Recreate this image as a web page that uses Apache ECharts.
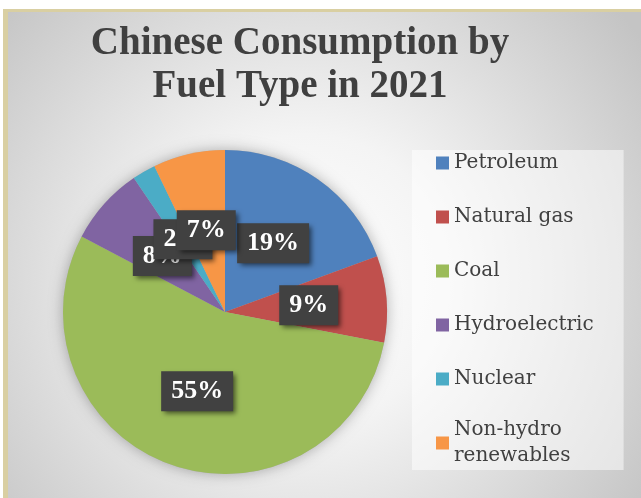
<!DOCTYPE html>
<html><head><meta charset="utf-8">
<script src="https://cdn.jsdelivr.net/npm/echarts@6/dist/echarts.min.js"></script>
<style>html,body{margin:0;padding:0;background:#fff}#c{width:641px;height:498px}</style>
</head><body><div id="c"></div>
<script>
const categories = ['Petroleum', 'Natural gas', 'Coal', 'Hydroelectric', 'Nuclear', 'Non-hydro renewables'];
const values = [30.6, 13.6, 86.2, 12.25, 3.68, 11.32];
const colors = ['#4f81bd', '#c0504d', '#9bbb59', '#8064a2', '#4bacc6', '#f79646'];
const titleLines = ['Chinese Consumption by', 'Fuel Type in 2021'];

const chart = echarts.init(document.getElementById('c'), null, {renderer: 'canvas'});
const total = values.reduce((a, b) => a + b, 0);

chart.setOption({
  animation: false,
  graphic: [
    {type: 'rect', shape: {x: 3, y: 9, width: 638, height: 489}, style: {fill: '#d9cfa2'}},
    {type: 'rect', shape: {x: 8, y: 12, width: 633, height: 486},
     style: {fill: {type: 'radial', x: 0.47, y: 0.55, r: 0.85,
       colorStops: [{offset: 0, color: '#ffffff'}, {offset: 0.35, color: '#f4f4f4'}, {offset: 1, color: '#c4c4c4'}]}}}
  ],
  title: {
    text: titleLines.join('\n'),
    left: 300,
    textAlign: 'center',
    top: 22,
    padding: 0,
    textStyle: {fontFamily: 'Liberation Serif', fontWeight: 'bold', fontSize: 39, lineHeight: 43, color: '#404040'}
  },
  legend: {
    orient: 'vertical',
    left: 412,
    top: 150,
    padding: [0, 30, 4, 24],
    backgroundColor: 'rgba(255,255,255,0.5)',
    itemWidth: 13,
    itemHeight: 13,
    itemGap: 28,
    icon: 'rect',
    data: categories.map(n => n === 'Non-hydro renewables'
      ? {name: n, textStyle: {padding: [0, 0, -26, 0]}} : n),
    formatter: n => n === 'Non-hydro renewables' ? 'Non-hydro\nrenewables' : n,
    textStyle: {fontFamily: 'DejaVu Serif', fontSize: 20, lineHeight: 26, color: '#404040'}
  },
  series: [
    {
      type: 'pie', silent: true, center: [225, 312], radius: 162,
      label: {show: false}, labelLine: {show: false},
      itemStyle: {color: '#b0b0b0', shadowBlur: 14, shadowColor: 'rgba(0,0,0,0.3)'},
      data: [{name: '_shadow', value: total}]
    },
    {
      type: 'pie',
      center: [225, 312],
      radius: 162,
      startAngle: 90,
      clockwise: true,
      avoidLabelOverlap: false,
      labelLayout: {hideOverlap: false},
      color: colors,
      itemStyle: {borderWidth: 0},
      labelLine: {show: false},
      label: {
        show: true,
        position: 'inside',
        formatter: p => Math.round(p.percent) + '%',
        color: '#ffffff',
        fontFamily: 'Liberation Serif',
        fontWeight: 'bold',
        fontSize: 26,
        lineHeight: 26,
        backgroundColor: '#414141',
        padding: [7, 10],
        shadowColor: 'rgba(0,0,0,0.55)',
        shadowBlur: 5,
        shadowOffsetX: 3,
        shadowOffsetY: 3
      },
      data: categories.map((n, i) => ({name: n, value: values[i]}))
    }
  ]
});
</script></body></html>
